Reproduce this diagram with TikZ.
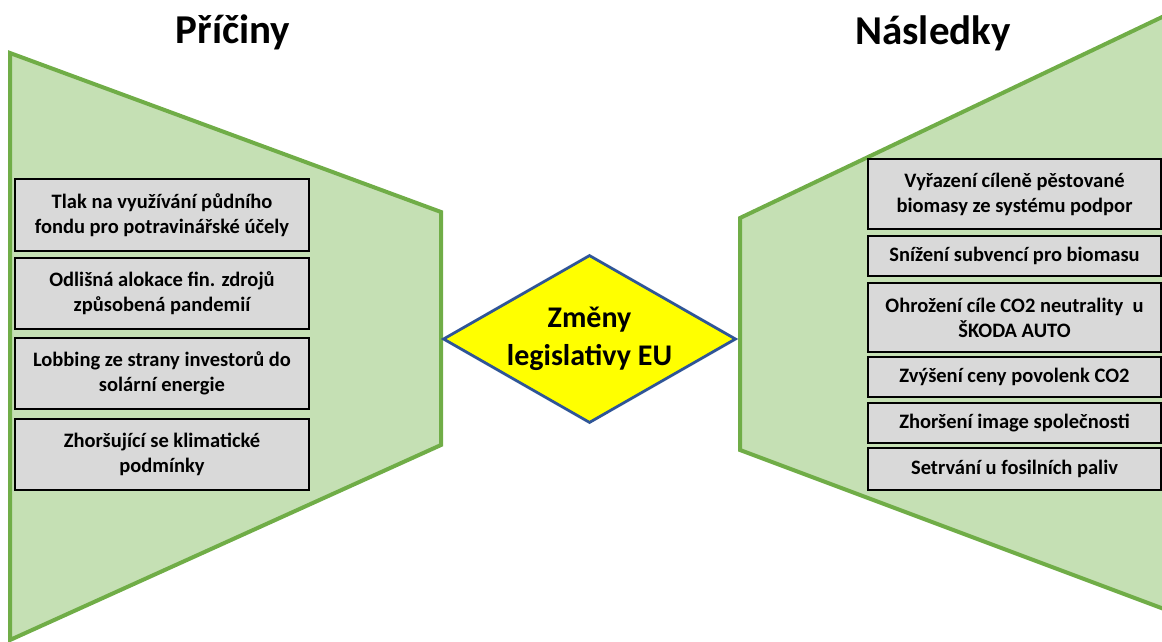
\documentclass[tikz,border=0pt]{standalone}
\usepackage{fontspec}
\setmainfont{Carlito}
\usetikzlibrary{shapes.geometric}

\definecolor{leafline}{HTML}{70AD47}
\definecolor{leaffill}{HTML}{C5E0B4}
\definecolor{boxfill}{HTML}{D9D9D9}
\definecolor{rhombline}{HTML}{2F5597}
\definecolor{rhombfill}{HTML}{FFFF00}

\begin{document}
\begin{tikzpicture}[x=1pt,y=-1pt,
  funnel/.style={draw=leafline,fill=leaffill,line width=4pt,line join=miter},
  itembox/.style={draw=black,fill=boxfill,line width=1.8pt,rectangle,
    inner sep=0pt,align=center,font=\fontsize{20.5}{25}\selectfont\bfseries},
  leftbox/.style={itembox,minimum width=294pt},
  rightbox/.style={itembox,minimum width=293pt},
  heading/.style={font=\fontsize{41}{48}\selectfont\bfseries,inner sep=0pt},
  rhomb/.style={diamond,draw=rhombline,fill=rhombfill,line width=2.8pt,
    aspect=1.75,inner sep=0pt,minimum width=293pt,minimum height=168pt,
    align=center,font=\fontsize{30}{38}\selectfont\bfseries}]
\useasboundingbox (0,0) rectangle (1162,642);
\clip (0,0) rectangle (1162,642);

% causes funnel (left) and consequences funnel (right)
\draw[funnel] (10,53) -- (441,212) -- (441,445) -- (10,640) -- cycle;
\draw[funnel] (740,218) -- (1180,8.5) -- (1180,615) -- (740,450) -- cycle;

% headings
\node[heading] (causes) at (233,32) {Příčiny};
\node[heading] (effects) at (933,33) {Následky};

% causes
\node[leftbox,minimum height=72pt] (c1) at (162,215)
  {Tlak na využívání půdního\\fondu pro potravinářské účely};
\node[leftbox,minimum height=71pt] (c2) at (162,293.5)
  {Odlišná alokace fin. zdrojů\\způsobená pandemií};
\node[leftbox,minimum height=71pt] (c3) at (162,373.5)
  {Lobbing ze strany investorů do\\solární energie};
\node[leftbox,minimum height=71pt] (c4) at (162,454.5)
  {Zhoršující se klimatické\\podmínky};

% central change
\node[rhomb] (eu) at (589.5,339) {Změny\\legislativy EU};

% consequences
\node[rightbox,minimum height=70pt] (e1) at (1014.5,194)
  {Vyřazení cíleně pěstované\\biomasy ze systému podpor};
\node[rightbox,minimum height=40pt] (e2) at (1014.5,256)
  {Snížení subvencí pro biomasu};
\node[rightbox,minimum height=69pt] (e3) at (1014.5,317.5)
  {Ohrožení cíle CO2 neutrality\ \ u\\ŠKODA AUTO};
\node[rightbox,minimum height=40pt] (e4) at (1014.5,377)
  {Zvýšení ceny povolenk CO2};
\node[rightbox,minimum height=40pt] (e5) at (1014.5,423)
  {Zhoršení image společnosti};
\node[rightbox,minimum height=42pt] (e6) at (1014.5,469)
  {Setrvání u fosilních paliv};
\end{tikzpicture}
\end{document}
